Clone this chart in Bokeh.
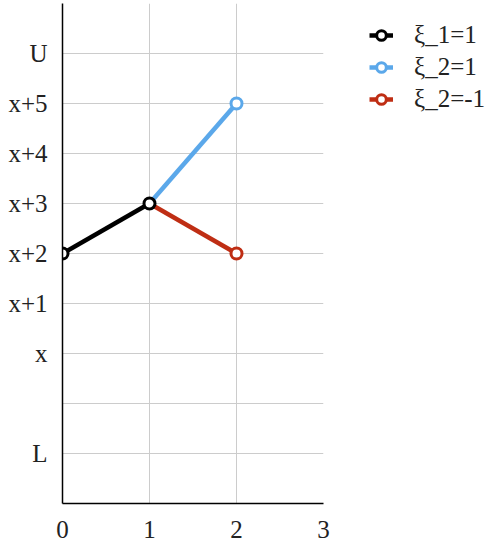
from bokeh.plotting import figure
from bokeh.models import FixedTicker, Legend, LegendItem, Range1d
from bokeh.embed import file_html
from bokeh.resources import INLINE

# data
x_ticks = [0, 1, 2, 3]
y_ticks = [0, 1, 2, 3, 4, 5, 6, 7, 8, 9, 10]
y_labels = ["", "L", "", "x", "x+1", "x+2", "x+3", "x+4", "x+5", "U", ""]
series_names = ["ξ_1=1", "ξ_2=1", "ξ_2=-1"]
xs_black = [0, 1]
ys_black = [5, 6]
xs_blue = [1, 2]
ys_blue = [6, 8]
xs_red = [1, 2]
ys_red = [6, 5]
colors = ["#000000", "#5BA8EA", "#BF2E14"]

FONT = "Liberation Serif"

p = figure(frame_width=261, frame_height=500, output_backend="svg",
           toolbar_location=None, x_range=Range1d(0, 3), y_range=Range1d(0, 10),
           min_border_left=62, min_border_top=1, min_border_right=160,
           min_border_bottom=40)
p.styles = {"margin-top": "2px"}
p.outline_line_color = None
p.background_fill_color = "white"

p.xaxis.ticker = FixedTicker(ticks=x_ticks)
p.yaxis.ticker = FixedTicker(ticks=y_ticks)
p.yaxis.major_label_overrides = {t: l for t, l in zip(y_ticks, y_labels)}
for ax in (p.xaxis[0], p.yaxis[0]):
    ax.major_tick_line_color = None
    ax.minor_tick_line_color = None
    ax.axis_line_color = "black"
    ax.axis_line_width = 1.5
    ax.major_label_text_font = FONT
    ax.major_label_text_font_size = "25px"
    ax.major_label_text_color = "#222222"
p.yaxis.major_label_standoff = 9
p.xaxis.major_label_standoff = 11

p.xgrid.grid_line_color = "#CCCCCC"
p.ygrid.grid_line_color = "#CCCCCC"
p.xgrid.grid_line_width = 1
p.ygrid.grid_line_width = 1

lw = 4.5
l_blue = p.line(xs_blue, ys_blue, line_color=colors[1], line_width=lw)
l_red = p.line(xs_red, ys_red, line_color=colors[2], line_width=lw)
l_black = p.line(xs_black, ys_black, line_color=colors[0], line_width=lw)
m_blue = p.scatter(xs_blue[1:], ys_blue[1:], size=11, fill_color="white",
                   line_color=colors[1], line_width=3)
m_red = p.scatter(xs_red[1:], ys_red[1:], size=11, fill_color="white",
                  line_color=colors[2], line_width=3)
m_black = p.scatter(xs_black, ys_black, size=11, fill_color="white",
                    line_color=colors[0], line_width=3)

legend = Legend(items=[
    LegendItem(label=series_names[0], renderers=[l_black, m_black]),
    LegendItem(label=series_names[1], renderers=[l_blue, m_blue]),
    LegendItem(label=series_names[2], renderers=[l_red, m_red]),
], location=(46, 390))
legend.border_line_color = None
legend.background_fill_alpha = 0
legend.label_text_font = FONT
legend.label_text_font_size = "25px"
legend.label_text_color = "#222222"
legend.glyph_width = 24
legend.glyph_height = 28
legend.label_height = 28
legend.spacing = 4
legend.label_standoff = 21
legend.padding = 0
legend.margin = 0
p.add_layout(legend, "right")

open("out.html", "w").write(file_html(p, INLINE))
